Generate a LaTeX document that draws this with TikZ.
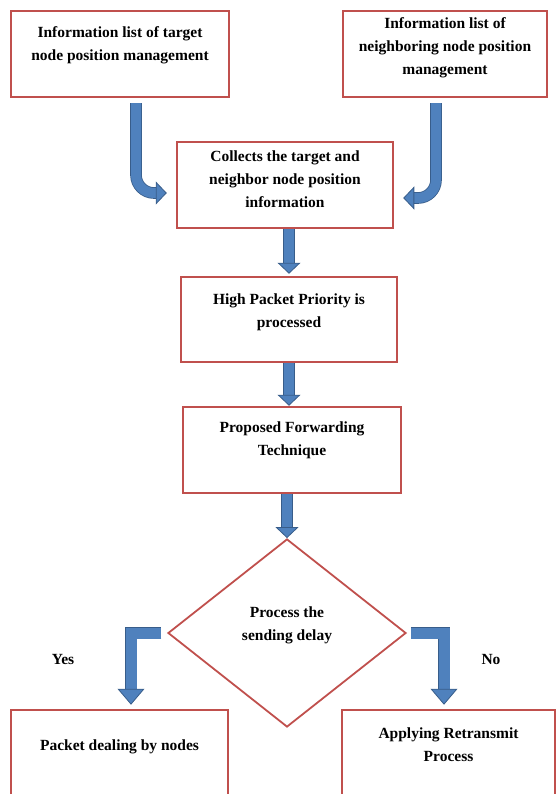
\documentclass[tikz,border=0pt]{standalone}
\usepackage{fontspec}
\setmainfont{Liberation Serif}
\usetikzlibrary{calc,arrows.meta,shapes.geometric}
\definecolor{boxred}{HTML}{C0504D}
\definecolor{flowblue}{HTML}{4F81BD}
\definecolor{flowedge}{HTML}{385D8A}
\tikzset{
	stage/.style={rectangle,draw=boxred,line width=2.5pt,inner sep=0pt},
	caption/.style={align=center,font=\bfseries\fontsize{15.5}{23}\selectfont,inner sep=0pt},
	flow/.style={line width=10pt,draw=flowblue,
		-{Triangle[length=11pt,width=23pt,fill=flowblue,color=flowedge,line width=0.8pt]},
		preaction={draw=flowedge,line width=11.6pt,arrows=-,shorten >=9pt}},
	branch/.style={line width=11pt,draw=flowblue,
		-{Triangle[length=16pt,width=27pt,fill=flowblue,color=flowedge,line width=0.8pt]},
		preaction={draw=flowedge,line width=12.6pt,arrows=-,shorten >=14pt}}
	}

\begin{document}
\begin{tikzpicture}[x=1pt,y=-1pt,
		decision/.style={diamond,draw=boxred,line width=1.8pt,inner sep=0pt}]
		\useasboundingbox (0,0) rectangle (557,794);
		\clip (0,0) rectangle (557,794);
		\node[stage,minimum width=218pt,minimum height=86pt] (tgt) at (120,54) {};
		\node[stage,minimum width=204pt,minimum height=86pt] (nbr) at (445,54) {};
		\node[stage,minimum width=216pt,minimum height=86pt] (col) at (285,185) {};
		\node[stage,minimum width=216pt,minimum height=85pt] (pri) at (289,319.5) {};
		\node[stage,minimum width=218pt,minimum height=86pt] (fwd) at (292,450) {};
		\node[decision,minimum width=238pt,minimum height=188pt] (dly) at (287,633) {};
		\node[stage,minimum width=217pt,minimum height=90pt] (pkt) at (119.5,755) {};
		\node[stage,minimum width=213pt,minimum height=90pt] (rtx) at (448.5,755) {};
		\node[caption] (tgttext) at (120,45) {Information list of target\\node position management};
		\node[caption] (nbrtext) at (445,48) {Information list of\\neighboring node position\\management};
		\node[caption] (coltext) at (285,179) {Collects the target and\\neighbor node position\\information};
		\node[caption] (pritext) at (289,312) {High Packet Priority is\\processed};
		\node[caption] (fwdtext) at (292,440.5) {Proposed Forwarding\\Technique};
		\node[caption] (dlytext) at (287,625) {Process the\\sending delay};
		\node[caption] (pkttext) at (119.5,747) {Packet dealing by nodes};
		\node[caption] (rtxtext) at (448.5,745) {Applying Retransmit\\Process};
		\node[caption] (yes) at (63,659) {Yes};
		\node[caption] (no) at (491,659) {No};
		\draw[flow,rounded corners=18pt] ([xshift=16pt,yshift=-5pt]tgt.south) |- ([xshift=-9pt,yshift=-8pt]col.west);
		\draw[flow,rounded corners=18pt] ([xshift=-9pt,yshift=-5pt]nbr.south) |- ([xshift=9pt,yshift=-13pt]col.east);
		\draw[flow] (col.south -| pri.north) -- ([yshift=2pt]pri.north);
		\draw[flow] (pri.south) -- (fwd.north -| pri.south);
		\draw[flow] (fwd.south -| dly.north) -- (dly.north);
		\draw[branch] ([xshift=-6pt]dly.west) -| ([xshift=11.5pt,yshift=4pt]pkt.north);
		\draw[branch] ([xshift=4pt]dly.east) -| ([xshift=-4.5pt,yshift=4pt]rtx.north);
\end{tikzpicture}
\end{document}
